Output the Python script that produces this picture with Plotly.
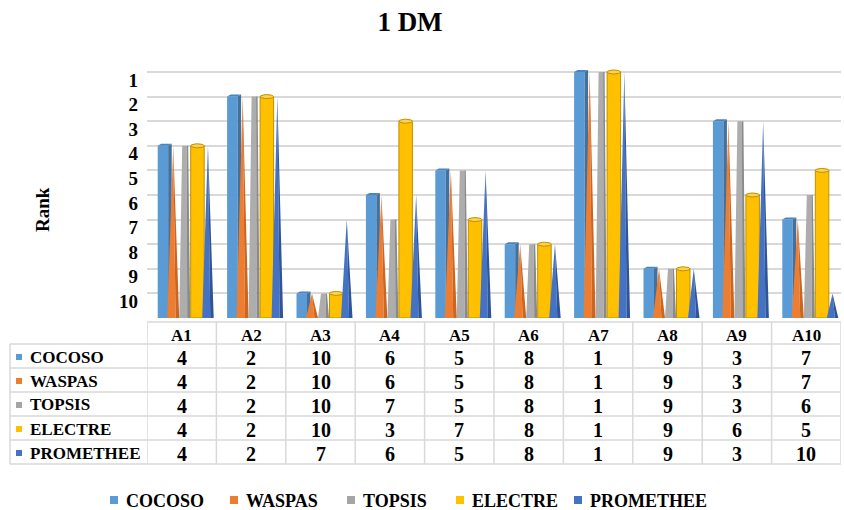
import numpy as np
import plotly.graph_objects as go

# ---------------- data ----------------
alternatives = ["A1", "A2", "A3", "A4", "A5", "A6", "A7", "A8", "A9", "A10"]
methods = ["COCOSO", "WASPAS", "TOPSIS", "ELECTRE", "PROMETHEE"]
cocoso = [4, 2, 10, 6, 5, 8, 1, 9, 3, 7]
waspas = [4, 2, 10, 6, 5, 8, 1, 9, 3, 7]
topsis = [4, 2, 10, 7, 5, 8, 1, 9, 3, 6]
electre = [4, 2, 10, 3, 7, 8, 1, 9, 6, 5]
promethee = [4, 2, 7, 6, 5, 8, 1, 9, 3, 10]
rank_ticks = [1, 2, 3, 4, 5, 6, 7, 8, 9, 10]

series = [cocoso, waspas, topsis, electre, promethee]
colors = ["#5B9BD5", "#ED7D31", "#A5A5A5", "#FFC000", "#4472C4"]

# ---------------- geometry helpers ----------------
W, H = 844, 510
L, R, T1, B = 147, 841, 72, 318         # x extent, y of rank 1, y of floor (pixels)
HEADROOM = 4                             # extra pixels above rank 1
T = T1 - HEADROOM
BASE = 11                                # floor of the reversed rank axis
PX_PER_CAT = (R - L) / len(alternatives)
PX_PER_RANK = (B - T1) / (BASE - 1)
FONT = "Liberation Serif"
GRID = "#D9D9D9"


def ux(px):
    return px / PX_PER_CAT


def uy(px):
    return px / PX_PER_RANK


def paper_x(px):
    return (px - L) / (R - L)


def paper_y(py):
    return (B - py) / (B - T)


def poly_trace(polys, fill, line_color=None, line_width=0):
    xs, ys = [], []
    for p in polys:
        for (x, y) in p:
            xs.append(x)
            ys.append(y)
        xs.append(p[0][0])
        ys.append(p[0][1])
        xs.append(None)
        ys.append(None)
    return go.Scatter(
        x=xs, y=ys, mode="lines", fill="toself", fillcolor=fill,
        line=dict(color=line_color or fill, width=line_width),
        hoverinfo="skip", showlegend=False,
    )


fig = go.Figure()

# COCOSO: boxes with a shaded side and top
front, side, top = [], [], []
d, h = ux(3.5), uy(2)
for i, v in enumerate(cocoso):
    l, r = i + ux(-24), i + ux(-13.5)
    front.append([(l, BASE), (l, v), (r, v), (r, BASE)])
    side.append([(r, BASE), (r, v), (r + d, v - h), (r + d, BASE)])
    top.append([(l, v), (l + d, v - h), (r + d, v - h), (r, v)])
fig.add_trace(poly_trace(front, "#5B9BD5"))
fig.add_trace(poly_trace(side, "#41719C"))
fig.add_trace(poly_trace(top, "#4A84BC"))


# cones (WASPAS and PROMETHEE)
def cones(values, off_l, off_r, light, dark):
    lp, dp = [], []
    for i, v in enumerate(values):
        l, r = i + ux(off_l), i + ux(off_r)
        a = (l + r) / 2
        m = l + (r - l) * 0.7
        lp.append([(l, BASE), (a, v), (m, BASE)])
        dp.append([(m, BASE), (a, v), (r, BASE)])
    fig.add_trace(poly_trace(lp, light))
    fig.add_trace(poly_trace(dp, dark))


cones(waspas, -14.5, -2.5, "#ED7D31", "#CC651F")

# TOPSIS: tapered columns
lp, dp = [], []
for i, v in enumerate(topsis):
    bl, br = i + ux(-2.5), i + ux(8.5)
    tl, tr = i + ux(0.5), i + ux(6.5)
    bm, tm = br - ux(3.0), tr - ux(1.5)
    lp.append([(bl, BASE), (tl, v), (tm, v), (bm, BASE)])
    dp.append([(bm, BASE), (tm, v), (tr, v), (br, BASE)])
fig.add_trace(poly_trace(lp, "#ADADAD"))
fig.add_trace(poly_trace(dp, "#8A8A8A"))

# ELECTRE: cylinders
bodies, caps = [], []
theta = np.linspace(0, 2 * np.pi, 25)
for i, v in enumerate(electre):
    l, r = i + ux(9), i + ux(22.5)
    bodies.append([(l, BASE), (l, v), (r, v), (r, BASE)])
    c, rx, ry = (l + r) / 2, (r - l) / 2, uy(2)
    caps.append([(c + rx * np.cos(t), v + ry * np.sin(t)) for t in theta])
fig.add_trace(poly_trace(bodies, "#FFC000", "#BF9000", 1))
fig.add_trace(poly_trace(caps, "#FFD24D", "#BF9000", 1))

cones(promethee, 20.5, 32, "#4472C4", "#2F5597")

# ---------------- layout ----------------
shapes = []
annotations = []

# data table grid
row_lines = [344, 368, 392, 416, 440, 464]
shapes.append(dict(type="line", xref="paper", yref="paper",
                   x0=paper_x(L), x1=paper_x(R), y0=paper_y(322), y1=paper_y(322),
                   line=dict(color=GRID, width=1.5)))
for py in row_lines:
    shapes.append(dict(type="line", xref="paper", yref="paper",
                       x0=paper_x(10), x1=paper_x(R), y0=paper_y(py), y1=paper_y(py),
                       line=dict(color=GRID, width=1.5)))
shapes.append(dict(type="line", xref="paper", yref="paper",
                   x0=paper_x(10), x1=paper_x(10), y0=paper_y(344), y1=paper_y(464),
                   line=dict(color=GRID, width=1.5)))
for k in range(len(alternatives) + 1):
    shapes.append(dict(type="line", xref="x", yref="paper",
                       x0=k - 0.5, x1=k - 0.5, y0=paper_y(322), y1=paper_y(464),
                       line=dict(color=GRID, width=1.5)))

# header row
for i, a in enumerate(alternatives):
    annotations.append(dict(x=i, y=paper_y(335), xref="x", yref="paper",
                            text=f"<b>{a}</b>", showarrow=False,
                            font=dict(family=FONT, size=17, color="black"),
                            xanchor="center", yanchor="middle"))

# body rows
for r_idx, (name, vals, col) in enumerate(zip(methods, series, colors)):
    cy = (row_lines[r_idx] + row_lines[r_idx + 1]) / 2
    shapes.append(dict(type="rect", xref="paper", yref="paper",
                       x0=paper_x(16), x1=paper_x(22),
                       y0=paper_y(cy - 2), y1=paper_y(cy + 4),
                       fillcolor=col, line=dict(width=0)))
    annotations.append(dict(x=paper_x(28), y=paper_y(cy + 1), xref="paper", yref="paper",
                            text=f"<b>{name}</b>", showarrow=False,
                            font=dict(family=FONT, size=17, color="black"),
                            xanchor="left", yanchor="middle"))
    for i, v in enumerate(vals):
        annotations.append(dict(x=i, y=paper_y(cy + 2), xref="x", yref="paper",
                                text=f"<b>{v}</b>", showarrow=False,
                                font=dict(family=FONT, size=20, color="black"),
                                xanchor="center", yanchor="middle"))

# legend along the bottom
legend_x = [110, 230, 347, 456, 574]
for name, col, lx in zip(methods, colors, legend_x):
    shapes.append(dict(type="rect", xref="paper", yref="paper",
                       x0=paper_x(lx), x1=paper_x(lx + 8),
                       y0=paper_y(496), y1=paper_y(504),
                       fillcolor=col, line=dict(width=0)))
    annotations.append(dict(x=paper_x(lx + 14), y=paper_y(501), xref="paper", yref="paper",
                            text=f"<b>{name}</b>", showarrow=False,
                            font=dict(family=FONT, size=18, color="black"),
                            xanchor="left", yanchor="middle"))

# axis title
annotations.append(dict(x=paper_x(42), y=paper_y(210), xref="paper", yref="paper",
                        text="<b>Rank</b>", textangle=-90, showarrow=False,
                        font=dict(family=FONT, size=19, color="black"),
                        xanchor="center", yanchor="middle"))

fig.update_layout(
    width=W, height=H,
    margin=dict(l=L, r=W - R, t=T, b=H - B),
    paper_bgcolor="white", plot_bgcolor="white",
    showlegend=False,
    font=dict(family=FONT, color="black"),
    title=dict(text="<b>1 DM</b>", x=410 / W, y=1 - 22 / H,
               xref="container", yref="container", xanchor="center", yanchor="middle",
               font=dict(family=FONT, size=27, color="black")),
    xaxis=dict(range=[-0.5, len(alternatives) - 0.5], showticklabels=False,
               showgrid=False, zeroline=False, showline=False, fixedrange=True),
    yaxis=dict(range=[BASE, 1 - uy(HEADROOM)], tickvals=rank_ticks + [BASE],
               ticktext=[str(t) for t in rank_ticks] + [""],
               showgrid=True, gridcolor=GRID, gridwidth=1.5,
               zeroline=False, showline=False, ticks="",
               ticklabelstandoff=8, ticklabelshift=-8,
               tickfont=dict(family=FONT, size=19, color="black", weight="bold")),
    shapes=shapes,
    annotations=annotations,
)

fig.write_html("out.html")
